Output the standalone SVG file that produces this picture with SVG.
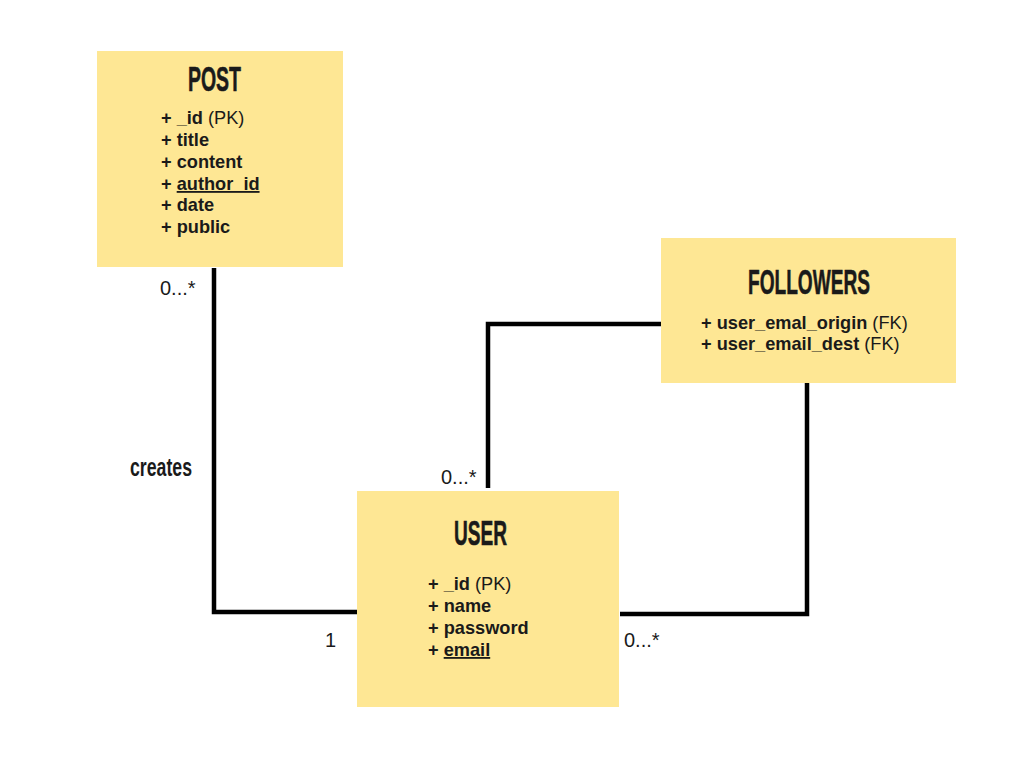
<svg xmlns="http://www.w3.org/2000/svg" width="1024" height="768" viewBox="0 0 1024 768">
<style>
.box{fill:#FEE794}
.title{font-family:"Liberation Sans",Arial,sans-serif;font-weight:bold;font-size:35px;fill:#1a1a1a;stroke:#1a1a1a;stroke-width:0.6}
.attr{font-family:"Liberation Sans",Arial,sans-serif;font-weight:bold;font-size:18.2px;fill:#1a1a1a}
.reg{font-weight:normal}
.mult{font-family:"Liberation Sans",Arial,sans-serif;font-size:20px;fill:#1a1a1a}
.lbl{font-family:"Liberation Sans",Arial,sans-serif;font-weight:bold;font-size:25px;fill:#1a1a1a}
.conn{fill:none;stroke:#000;stroke-width:4.5;stroke-linejoin:miter}
</style>
<rect width="1024" height="768" fill="#fff"/>
<g id="connectors">
<polyline class="conn" points="214,268 214,612 357,612"/>
<polyline class="conn" points="661,324 488,324 488,488"/>
<polyline class="conn" points="807,383 807,614 620,614"/>
<text class="mult" x="160" y="295">0...*</text>
<text class="lbl" x="130" y="476" textLength="62" lengthAdjust="spacingAndGlyphs">creates</text>
<text class="mult" x="441" y="484">0...*</text>
<text class="mult" x="325" y="647">1</text>
<text class="mult" x="624" y="647">0...*</text>
</g>
<g id="post">
<rect class="box" x="97" y="51" width="246" height="216"/>
<text class="title" x="188" y="91" textLength="53" lengthAdjust="spacingAndGlyphs">POST</text>
<text class="attr" x="161" y="124">+ _id <tspan class="reg">(PK)</tspan></text>
<text class="attr" x="161" y="146">+ title</text>
<text class="attr" x="161" y="168">+ content</text>
<text class="attr" x="161" y="190">+ <tspan text-decoration="underline">author_id</tspan></text>
<text class="attr" x="161" y="211">+ date</text>
<text class="attr" x="161" y="233">+ public</text>
</g>
<g id="followers">
<rect class="box" x="661" y="238" width="295" height="145"/>
<text class="title" x="748" y="294" textLength="122" lengthAdjust="spacingAndGlyphs">FOLLOWERS</text>
<text class="attr" x="701" y="329">+ user_emal_origin <tspan class="reg">(FK)</tspan></text>
<text class="attr" x="701" y="350">+ user_email_dest <tspan class="reg">(FK)</tspan></text>
</g>
<g id="user">
<rect class="box" x="357" y="491" width="262" height="216"/>
<text class="title" x="454" y="545" textLength="53" lengthAdjust="spacingAndGlyphs">USER</text>
<text class="attr" x="428" y="590">+ _id <tspan class="reg">(PK)</tspan></text>
<text class="attr" x="428" y="612">+ name</text>
<text class="attr" x="428" y="634">+ password</text>
<text class="attr" x="428" y="656">+ <tspan text-decoration="underline">email</tspan></text>
</g>
</svg>
